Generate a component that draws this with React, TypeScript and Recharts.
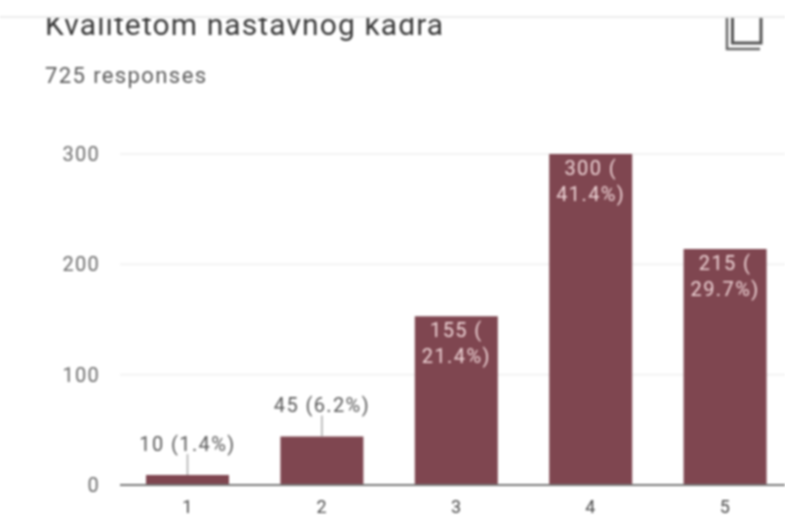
import React from "react";
import { BarChart, Bar, XAxis, YAxis, CartesianGrid, LabelList } from "recharts";

const title = "Kvalitetom nastavnog kadra";
const subtitle = "725 responses";
const categories = ["1", "2", "3", "4", "5"];
const counts = [9, 44, 153, 300, 214];
const labelFirst = ["10 (1.4%)", "45 (6.2%)", "155 (", "300 (", "215 ("];
const labelSecond = ["", "", "21.4%)", "41.4%)", "29.7%)"];
const yTicks = [0, 100, 200, 300];

const data = categories.map((name, i) => ({ name, count: counts[i] }));

const BarLabel = (props: any) => {
  const { x, y, width, index } = props;
  const cx = x + width / 2;
  if (!labelSecond[index]) {
    // short bars: label floats above with a small leader line
    return (
      <g>
        <line x1={cx} x2={cx} y1={y} y2={y - 21} stroke="#aaaaaa" strokeWidth={1.5} />
        <text x={cx} y={y - 31} dy={7} textAnchor="middle" fontSize={20} letterSpacing={1.4} fill="#5a5a5a">
          {labelFirst[index]}
        </text>
      </g>
    );
  }
  return (
    <g fontSize={20} letterSpacing={1.4} fill="#edd3d5" textAnchor="middle">
      <text x={cx} y={y + 14} dy={7}>{labelFirst[index]}</text>
      <text x={cx} y={y + 40} dy={7}>{labelSecond[index]}</text>
    </g>
  );
};

const CopyIcon = () => (
  <svg width={40} height={36} style={{ position: "absolute", left: 724, top: 16 }}>
    <path d="M3 1 V33 H36" fill="none" stroke="#666666" strokeWidth={2.5} />
    <path d="M8.5 1 V27 H37 V1" fill="none" stroke="#555555" strokeWidth={3} />
  </svg>
);

export default function App() {
  return (
    <div
      style={{
        position: "absolute",
        left: 0,
        top: 0,
        width: 785,
        height: 518,
        overflow: "hidden",
        background: "#ffffff",
        fontFamily: "Roboto, sans-serif",
        filter: "blur(0.9px)",
      }}
    >
      <div style={{ position: "absolute", left: 45, top: 7, fontSize: 30, letterSpacing: 1.1, color: "#3a3a3a", whiteSpace: "nowrap" }}>
        {title}
      </div>
      <CopyIcon />
      <div style={{ position: "absolute", left: 0, top: 0, width: 785, height: 16, background: "#ffffff", borderBottom: "2px solid #ececec" }} />
      <div style={{ position: "absolute", left: 45, top: 63, fontSize: 22, letterSpacing: 1.4, color: "#5a5a5a", whiteSpace: "nowrap" }}>
        {subtitle}
      </div>
      <div style={{ position: "absolute", left: 0, top: 0 }}>
        <BarChart
          width={800}
          height={518}
          data={data}
          margin={{ top: 154, right: 8, left: 0, bottom: 0 }}
        >
          <CartesianGrid vertical={false} stroke="#f3f3f3" strokeWidth={2} />
          <XAxis
            dataKey="name"
            height={33}
            tickLine={false}
            axisLine={{ stroke: "#777777", strokeWidth: 2 }}
            tick={{ fontSize: 18, fill: "#4a4a4a" }}
            tickMargin={9}
          />
          <YAxis
            width={120}
            domain={[0, 300]}
            ticks={yTicks}
            tickLine={false}
            axisLine={false}
            tick={{ fontSize: 20, fill: "#6a6a6a", letterSpacing: 1.3 }}
            tickMargin={14}
          />
          <Bar dataKey="count" fill="#7f4650" barSize={83} isAnimationActive={false}>
            <LabelList dataKey="count" content={BarLabel} />
          </Bar>
        </BarChart>
      </div>
    </div>
  );
}
